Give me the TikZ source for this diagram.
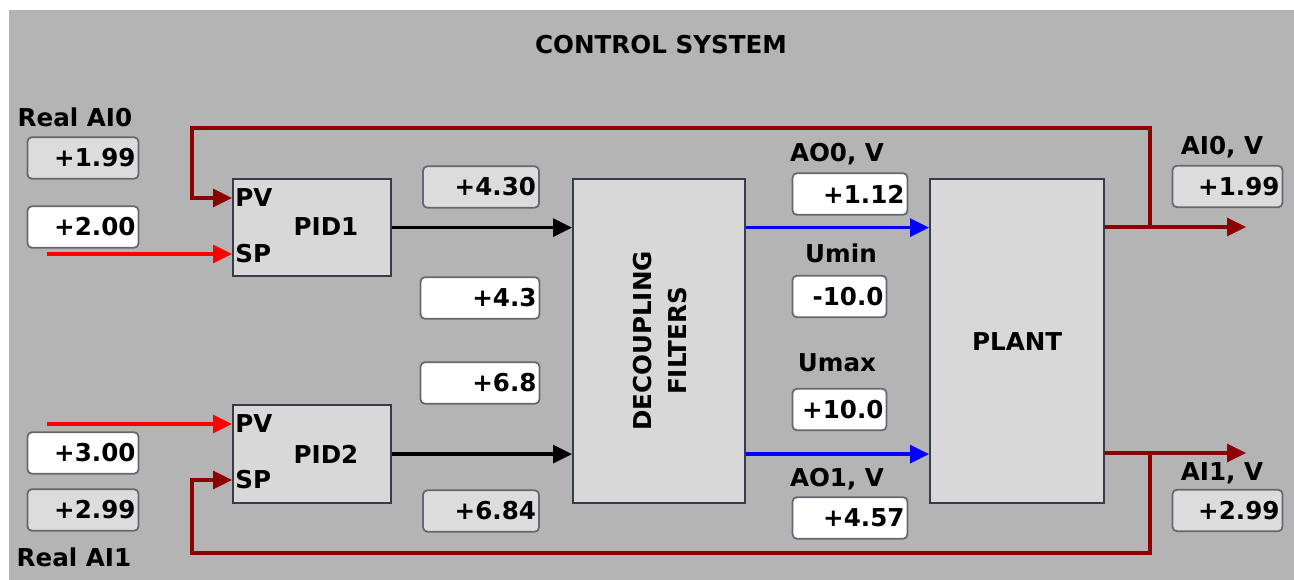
\documentclass[tikz,border=0pt]{standalone}
\usepackage{fontspec}
\setmainfont{DejaVu Sans}
\usetikzlibrary{arrows.meta, positioning}
\definecolor{panel}{RGB}{180,180,180}
\definecolor{blockfill}{RGB}{216,216,216}
\definecolor{readfill}{RGB}{220,220,220}
\definecolor{blockline}{RGB}{55,60,75}
\definecolor{boxline}{RGB}{100,104,115}
\definecolor{fbred}{RGB}{139,0,0}
\tikzset{
    hmi/.style={x=0.02cm, y=-0.02cm, >={Triangle[length=0.38cm, width=0.36cm]}, font=\fontsize{14}{16}\selectfont\bfseries},
    block/.style={draw=blockline, fill=blockfill, line width=1.3pt, inner sep=0pt, anchor=north west},
    valbox/.style={draw=boxline, line width=1pt, rounded corners=2.5pt, minimum height=0.83cm, inner xsep=0.06cm, inner ysep=0pt, align=right},
    readout/.style={valbox, fill=readfill},
    entry/.style={valbox, fill=white},
    tag/.style={anchor=base, inner sep=0pt},
    port/.style={anchor=west, inner xsep=0.06cm, inner ysep=0pt},
    % signal lines
    setpt/.style={red, line width=1.9pt},
    ctrl/.style={black, line width=1.9pt},
    drive/.style={blue, line width=1.9pt},
    meas/.style={fbred, line width=1.9pt},
}
\begin{document}
\begin{tikzpicture}[hmi]
    \useasboundingbox (0,0) rectangle (1294,580);
    \fill[panel] (9,10) rectangle (1294,580);
    \node[tag] (title) at (661,54) {CONTROL SYSTEM};

    % controllers
    \node[block, minimum width=3.16cm, minimum height=1.94cm] (pid1) at (232,178) {};
    \node (pid1lbl) at (326,227) {PID1};
    \node[port] (pid1pv) at (232,198) {PV};
    \node[port] (pid1sp) at (232,254) {SP};
    \node[block, minimum width=3.16cm, minimum height=1.96cm] (pid2) at (232,404) {};
    \node (pid2lbl) at (326,454) {PID2};
    \node[port] (pid2pv) at (232,424) {PV};
    \node[port] (pid2sp) at (232,480) {SP};

    \node[block, minimum width=3.44cm, minimum height=6.48cm] (dec) at (572,178) {};
    \node[rotate=90, align=center, font=\fontsize{14}{20.4}\selectfont\bfseries] (declbl) at (660,341) {DECOUPLING\\FILTERS};
    \node[block, minimum width=3.48cm, minimum height=6.48cm] (plant) at (929,178) {PLANT};

    % left side values
    \node[tag] (realai0) at (75,127) {Real AI0};
    \node[readout, text width=2.10cm] (ai0real) at (83,158) {+1.99};
    \node[entry, text width=2.10cm] (sp1val) at (83,227) {+2.00};
    \node[entry, text width=2.10cm] (sp2val) at (83,453) {+3.00};
    \node[readout, text width=2.10cm] (ai1real) at (83,510) {+2.99};
    \node[tag] (realai1) at (74,566) {Real AI1};

    \node[readout, text width=2.20cm] (u1out) at (481,187) {+4.30};
    \node[entry, text width=2.26cm] (k12) at (480,298) {+4.3};
    \node[entry, text width=2.26cm] (k21) at (480,383) {+6.8};
    \node[readout, text width=2.20cm] (u2out) at (481,511) {+6.84};

    % outputs and limits
    \node[tag] (ao0lbl) at (837,162) {AO0, V};
    \node[entry, text width=2.18cm] (ao0val) at (850,194) {+1.12};
    \node[tag] (uminlbl) at (841,263) {Umin};
    \node[entry, text width=1.76cm] (uminval) at (839.5,296.5) {-10.0};
    \node[tag] (umaxlbl) at (837,372) {Umax};
    \node[entry, text width=1.76cm] (umaxval) at (839.5,409.5) {+10.0};
    \node[tag] (ao1lbl) at (837,486) {AO1, V};
    \node[entry, text width=2.18cm] (ao1val) at (850,518) {+4.57};

    \node[tag] (ai0lbl) at (1222,155) {AI0, V};
    \node[readout, text width=2.08cm] (ai0val) at (1227.5,186.5) {+1.99};
    \node[tag] (ai1lbl) at (1222,480) {AI1, V};
    \node[readout, text width=2.08cm] (ai1val) at (1227.5,510.5) {+2.99};

    \coordinate (sp1in) at (47,254);
    \coordinate (pv2in) at (47,424);
    \coordinate (ai0out) at (1246,227);
    \coordinate (ai1out) at (1246,453);
    \coordinate (br0) at (1150,227);
    \coordinate (br1) at (1150,453);
    \coordinate (fb0) at (192,128);
    \coordinate (fb1) at (192,553);

    \draw[setpt, ->] (sp1in) -- (pid1sp.west);
    \draw[setpt, ->] (pv2in) -- (pid2pv.west);
    \draw[ctrl, ->] (pid1.east) -- (pid1.east -| dec.west);
    \draw[ctrl, ->] (pid2.east) -- (pid2.east -| dec.west);
    \draw[drive, ->] (dec.east |- pid1.east) -- (plant.west |- pid1.east);
    \draw[drive, ->] (dec.east |- pid2.east) -- (plant.west |- pid2.east);
    \draw[meas, ->] (plant.east |- ai0out) -- (ai0out);
    \draw[meas, ->] (plant.east |- ai1out) -- (ai1out);
    \draw[meas, ->] (br0) |- (fb0) |- (pid1pv.west);
    \draw[meas, ->] (br1) |- (fb1) |- (pid2sp.west);
\end{tikzpicture}
\end{document}
